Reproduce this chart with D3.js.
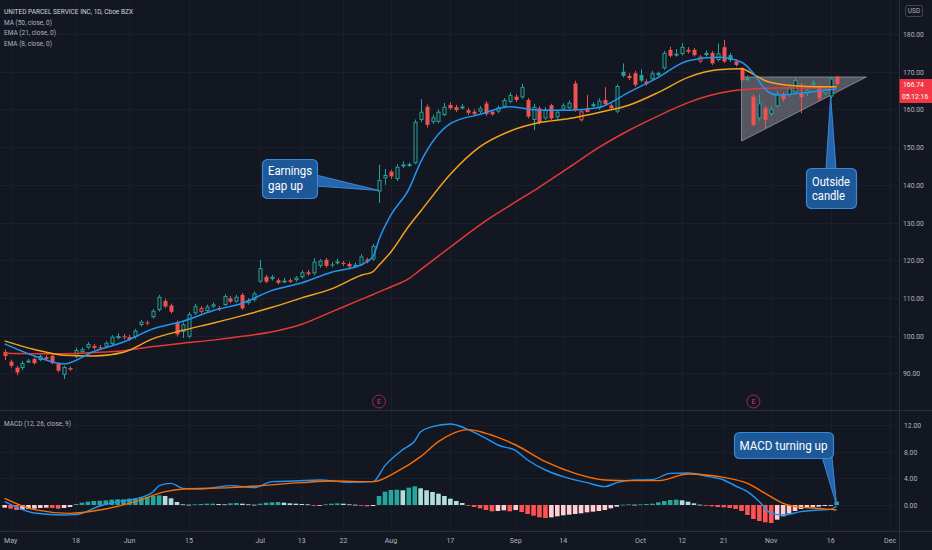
<!DOCTYPE html>
<html>
<head>
<meta charset="utf-8">
<script src="https://cdnjs.cloudflare.com/ajax/libs/d3/7.8.5/d3.min.js"></script>
<style>
  html, body { margin: 0; padding: 0; background: #131722; overflow: hidden; }
  svg { display: block; }
</style>
</head>
<body>
<div id="chart"></div>
<script>
// UPS daily candles with MA/EMA overlays and MACD pane (TradingView style)

// ---- data ----
const firstDay = '2020-04-30';
const lastAxisDay = '2020-12-02';
const holidays = ['2020-05-25', '2020-07-03', '2020-09-07', '2020-11-26'];

const open = [
  95.7, 93.1, 91.5, 91.4, 93.1, 93.8, 93.5, 94.3, 94.6, 92.5,
  89.6, 91.4, 94.4, 95.6, 96.8, 96.7, 96.9, 97.1, 97.8, 99.3,
  99.8, 99.6, 99.6, 102.8, 103.5, 104.9, 106.8, 109.2, 108.0, 103.4,
  101.0, 99.7, 105.9, 106.3, 106.5, 107.7, 107.3, 108.1, 109.9, 109.0,
  110.8, 108.6, 109.4, 114.3, 115.6, 115.0, 114.7, 114.5, 114.7, 114.7,
  115.5, 116.8, 116.5, 118.5, 120.1, 118.9, 119.3, 119.3, 119.0, 118.5,
  118.7, 120.2, 120.2, 138.2, 141.7, 143.5, 141.5, 145.1, 145.0, 145.7,
  157.2, 160.7, 156.6, 156.7, 158.5, 161.2, 160.6, 160.5, 159.8, 159.4,
  159.4, 161.6, 159.4, 159.4, 160.7, 162.0, 163.4, 163.2, 162.5, 157.2,
  160.3, 157.6, 161.1, 157.9, 160.0, 160.3, 166.9, 157.1, 160.3, 161.1,
  160.3, 162.5, 161.1, 159.4, 170.0, 168.9, 169.6, 169.1, 167.4, 168.0,
  169.1, 170.9, 175.8, 174.5, 174.7, 175.8, 175.8, 172.7, 175.0, 175.0,
  173.1, 176.5, 174.4, 172.7, 170.9, 167.9, 163.4, 157.6, 160.3, 158.8,
  160.8, 163.8, 163.8, 164.7, 164.3, 164.3, 166.5, 165.6, 164.3, 163.4,
  168.7
];
const high = [
  96.3, 93.6, 92.0, 93.3, 93.8, 94.2, 95.0, 94.8, 95.0, 92.8,
  92.0, 91.8, 96.8, 96.9, 98.3, 97.8, 97.5, 98.5, 100.1, 100.6,
  100.4, 100.2, 101.8, 104.2, 104.0, 107.1, 110.8, 109.8, 108.5, 104.0,
  103.5, 106.2, 108.4, 107.8, 108.2, 108.8, 107.9, 111.0, 110.5, 110.8,
  111.3, 109.9, 111.7, 120.0, 116.1, 116.1, 115.2, 115.3, 115.2, 115.8,
  117.3, 117.4, 120.5, 120.3, 120.6, 119.5, 120.4, 119.8, 119.5, 119.4,
  121.6, 120.6, 124.3, 145.3, 144.2, 144.0, 145.5, 146.2, 145.9, 157.3,
  162.7, 161.3, 158.6, 160.0, 161.7, 161.9, 161.2, 161.4, 160.4, 160.0,
  160.9, 162.2, 159.8, 161.0, 163.0, 164.5, 164.0, 166.8, 163.0, 161.5,
  160.8, 160.6, 161.5, 159.9, 161.6, 162.4, 167.6, 160.0, 163.8, 161.9,
  162.9, 165.9, 161.6, 166.6, 172.2, 169.6, 170.2, 170.6, 168.0, 170.2,
  170.0, 175.5, 176.6, 176.0, 177.6, 176.5, 176.3, 174.4, 175.6, 175.5,
  177.5, 178.4, 175.0, 173.3, 171.2, 169.0, 164.0, 164.0, 161.0, 160.8,
  165.0, 164.6, 166.5, 168.5, 167.0, 166.0, 167.8, 166.4, 165.8, 168.6,
  168.9
];
const low = [
  93.5, 91.5, 89.5, 90.8, 92.7, 92.3, 93.2, 93.4, 92.4, 90.3,
  88.5, 90.6, 94.0, 95.2, 96.4, 96.3, 96.2, 96.8, 97.5, 99.0,
  99.0, 98.6, 99.2, 102.4, 102.7, 104.5, 106.4, 107.3, 105.9, 99.8,
  99.4, 99.3, 105.5, 105.9, 106.1, 107.3, 106.5, 107.8, 108.6, 108.7,
  106.8, 108.2, 109.0, 114.0, 113.9, 114.6, 113.6, 114.0, 113.9, 114.3,
  115.1, 115.9, 116.0, 118.0, 118.0, 118.1, 118.9, 118.5, 117.9, 118.0,
  118.4, 119.2, 119.8, 135.2, 140.0, 141.6, 141.0, 144.5, 144.8, 145.4,
  156.6, 155.2, 156.1, 156.3, 158.2, 159.9, 159.3, 160.0, 158.5, 158.2,
  159.0, 158.3, 158.3, 159.0, 160.3, 161.6, 162.0, 162.8, 157.6, 154.5,
  156.0, 157.2, 157.2, 157.4, 159.6, 159.9, 159.4, 156.8, 159.2, 160.6,
  159.9, 161.0, 159.8, 159.0, 168.5, 167.8, 166.0, 167.2, 166.3, 167.6,
  168.7, 170.5, 173.8, 174.0, 174.3, 174.8, 174.0, 172.3, 174.0, 171.8,
  172.7, 172.3, 172.6, 171.4, 167.5, 167.4, 155.5, 157.0, 155.1, 158.3,
  160.5, 162.0, 163.4, 164.0, 159.0, 163.6, 166.0, 162.2, 163.8, 162.9,
  166.3
];
const close = [
  94.6, 92.0, 90.2, 92.7, 93.4, 92.7, 94.6, 93.8, 92.7, 90.7,
  91.7, 91.0, 96.2, 96.4, 97.8, 97.3, 96.7, 98.1, 99.7, 99.9,
  99.5, 99.0, 101.3, 103.7, 103.2, 106.6, 110.3, 107.7, 106.3, 100.3,
  103.0, 105.7, 107.8, 107.3, 107.7, 108.3, 107.0, 110.5, 109.0, 110.3,
  107.2, 109.4, 111.2, 117.9, 114.3, 115.6, 114.0, 114.6, 114.3, 115.4,
  116.8, 116.3, 119.6, 119.9, 118.5, 118.6, 119.7, 119.0, 118.3, 118.8,
  121.0, 119.6, 123.8, 141.3, 142.6, 142.2, 144.8, 145.4, 145.5, 156.7,
  159.4, 155.9, 157.9, 159.4, 160.7, 160.3, 159.8, 160.8, 159.1, 158.8,
  160.3, 158.8, 158.7, 160.5, 162.5, 163.8, 162.5, 165.9, 158.1, 160.7,
  156.5, 160.0, 157.6, 159.4, 161.1, 161.8, 159.8, 159.5, 159.3, 161.4,
  162.3, 161.4, 160.3, 166.2, 168.9, 168.3, 166.5, 167.6, 166.8, 169.6,
  169.7, 175.0, 174.2, 174.8, 176.6, 175.3, 174.4, 174.0, 174.4, 172.2,
  174.9, 172.7, 173.1, 171.8, 167.8, 168.3, 155.9, 161.6, 157.2, 160.0,
  164.2, 162.7, 165.6, 167.8, 163.2, 165.1, 167.1, 162.9, 165.1, 168.2,
  166.74
];

// moving averages at these sessions
const maDays = [
  '2020-04-30', '2020-05-07', '2020-05-14', '2020-05-21', '2020-05-29', '2020-06-05',
  '2020-06-12', '2020-06-19', '2020-06-26', '2020-07-06', '2020-07-13', '2020-07-20',
  '2020-07-27', '2020-07-29', '2020-07-30', '2020-08-03', '2020-08-06', '2020-08-10',
  '2020-08-17', '2020-08-24', '2020-08-31', '2020-09-08', '2020-09-15', '2020-09-22',
  '2020-09-29', '2020-10-06', '2020-10-13', '2020-10-20', '2020-10-26', '2020-10-28',
  '2020-10-30', '2020-11-03', '2020-11-10', '2020-11-17'
];
const ema8 = [
  97.8, 94.6, 92.5, 95.8, 98.3, 101.8, 103.8, 106.6, 108.6, 112.0, 114.0, 116.8,
  118.8, 121.0, 125.5, 132.0, 138.8, 146.0, 156.2, 158.7, 160.7, 159.8, 159.8, 160.5,
  164.5, 168.5, 172.9, 173.8, 172.5, 169.6, 165.3, 163.8, 164.5, 165.4
];
const ema21 = [
  98.6, 96.3, 94.8, 94.6, 95.6, 99.2, 101.4, 103.3, 105.3, 107.5, 110.0, 112.4,
  116.0, 117.0, 118.7, 122.2, 129.0, 133.0, 142.8, 150.1, 154.2, 156.5, 157.6, 159.2,
  161.1, 164.5, 168.5, 170.5, 170.8, 169.3, 167.6, 166.8, 166.1, 166.0
];
const ma50 = [
  95.3, 95.2, 95.2, 95.5, 96.0, 97.1, 98.0, 98.8, 99.8, 101.0, 103.0, 106.3,
  109.6, 110.9, 111.6, 112.9, 115.1, 117.5, 123.5, 129.4, 134.5, 139.4, 144.6, 149.9,
  154.4, 158.3, 161.8, 164.2, 165.2, 165.5, 165.6, 165.7, 165.7, 165.8
];

// MACD (12, 26, 9)
const macdDays = [
  '2020-04-30', '2020-05-07', '2020-05-14', '2020-05-18', '2020-05-22', '2020-05-28',
  '2020-06-02', '2020-06-05', '2020-06-08', '2020-06-10', '2020-06-12', '2020-06-17',
  '2020-06-24', '2020-06-30', '2020-07-06', '2020-07-10', '2020-07-16', '2020-07-23',
  '2020-07-29', '2020-07-31', '2020-08-05', '2020-08-07', '2020-08-10', '2020-08-12',
  '2020-08-17', '2020-08-18', '2020-08-20', '2020-08-25', '2020-08-27', '2020-09-01',
  '2020-09-03', '2020-09-09', '2020-09-14', '2020-09-18', '2020-09-23', '2020-09-25',
  '2020-09-30', '2020-10-05', '2020-10-08', '2020-10-13', '2020-10-16', '2020-10-21',
  '2020-10-23', '2020-10-27', '2020-10-29', '2020-11-02', '2020-11-04', '2020-11-09',
  '2020-11-12', '2020-11-16', '2020-11-17'
];
const macdLine = [
  0.5, -1.2, -1.5, -1.45, -0.15, 0.5, 0.9, 2.0, 2.9, 3.25, 2.5, 2.4,
  2.9, 2.6, 3.5, 3.6, 3.75, 3.4, 3.5, 5.9, 8.3, 9.6, 11.0, 11.75,
  12.15, 12.0, 11.3, 10.0, 9.0, 8.15, 6.75, 5.25, 4.25, 3.35, 2.75, 3.35,
  3.75, 3.8, 4.75, 4.8, 4.35, 3.75, 2.85, 2.0, 0.5, -1.25, -1.5, -1.0,
  -0.75, -0.65, -0.15
];
const signalDays = [
  '2020-04-30', '2020-05-07', '2020-05-15', '2020-05-22', '2020-06-02', '2020-06-09',
  '2020-06-12', '2020-06-24', '2020-07-13', '2020-07-20', '2020-07-29', '2020-08-04',
  '2020-08-10', '2020-08-13', '2020-08-20', '2020-08-25', '2020-09-01', '2020-09-09',
  '2020-09-16', '2020-09-23', '2020-09-29', '2020-10-06', '2020-10-13', '2020-10-16',
  '2020-10-21', '2020-10-27', '2020-10-30', '2020-11-04', '2020-11-09', '2020-11-12',
  '2020-11-17'
];
const signalLine = [
  1.0, -0.7, -1.25, -0.75, 0.5, 2.0, 2.4, 2.6, 3.35, 3.6, 3.5, 5.0,
  7.25, 9.5, 11.3, 10.75, 9.0, 6.5, 4.75, 3.75, 3.65, 3.65, 4.65, 4.5,
  4.15, 3.25, 1.75, 0.25, -0.35, -0.5, -0.75
];
const histogram = [
  -0.4, -0.55, -0.75, -0.7, -0.6, -0.55, -0.45, -0.4, -0.45, -0.55,
  -0.45, -0.3, 0.15, 0.35, 0.5, 0.6, 0.65, 0.7, 0.8, 0.85,
  0.85, 0.95, 1.0, 1.1, 1.2, 1.35, 1.45, 1.35, 1.0, 0.45,
  0.1, 0.05, 0.1, 0.15, 0.2, 0.2, 0.15, 0.1, 0.25, 0.3,
  0.2, 0.1, 0.05, 0.2, 0.35, 0.4, 0.45, 0.35, 0.25, 0.2,
  0.15, 0.1, -0.1, -0.05, 0.1, 0.2, 0.25, 0.2, 0.1, 0.05,
  -0.1, -0.2, -0.15, 1.35, 2.0, 2.25, 2.3, 2.2, 2.6, 2.8,
  2.5, 2.2, 1.95, 1.7, 1.35, 0.95, 0.6, 0.3, -0.1, -0.3,
  -0.5, -0.75, -0.95, -0.9, -0.8, -0.95, -0.75, -1.05, -1.35, -1.6,
  -1.85, -1.95, -1.85, -1.7, -1.55, -1.45, -1.35, -1.25, -1.1, -1.0,
  -0.9, -0.75, -0.5, -0.25, 0.05, 0.1, 0.05, 0.1, 0.15, 0.2,
  0.4, 0.6, 0.75, 0.8, 0.7, 0.5, 0.25, 0.05, -0.1, -0.2,
  -0.3, -0.35, -0.45, -0.6, -0.9, -1.5, -2.1, -2.4, -2.6, -2.7,
  -2.2, -1.7, -1.3, -0.9, -0.6, -0.45, -0.35, -0.25, -0.15, -0.05,
  0.5
];

const priceTicks = [90, 100, 110, 120, 130, 140, 150, 160, 170, 180];
const macdTicks = [0, 4, 8, 12];
const timeTickDays = [
  '2020-05-01', '2020-05-18', '2020-06-01', '2020-06-15', '2020-07-01', '2020-07-13',
  '2020-07-22', '2020-08-03', '2020-08-17', '2020-09-01', '2020-09-14', '2020-10-01',
  '2020-10-12', '2020-10-21', '2020-11-02', '2020-11-16', '2020-12-01'
];
const timeTickLabels = [
  'May', '18', 'Jun', '15', 'Jul', '13', '22', 'Aug', '17', 'Sep', '14', 'Oct',
  '12', '21', 'Nov', '16', 'Dec'
];

const earningsDays = ['2020-07-30', '2020-10-28'];

// ascending triangle drawing
const triangleDays = ['2020-10-26', '2020-11-24', '2020-10-26'];
const trianglePrices = [168.6, 168.6, 151.6];

// callout notes and the point they mark
const calloutText = [['Earnings', 'gap up'], ['Outside', 'candle'], ['MACD turning up']];
const calloutDays = ['2020-07-30', '2020-11-16', '2020-11-17'];
const calloutValues = [138.5, 163.6, 0.0];
const calloutPanes = ['price', 'price', 'macd'];

const legendLines = ['MA (50, close, 0)', 'EMA (21, close, 0)', 'EMA (8, close, 0)'];

// ---- layout ----
const W = 932, H = 550;
const plotRight = 899, paneSplit = 410, axisTop = 531;
const BG = '#131722';
const UP = '#26a69a', DOWN = '#ef5350';
const FONT = 'Roboto, "Liberation Sans", Arial, sans-serif';

const calloutLayout = [
  { x: 262, y: 159, w: 55, h: 39, base: [[316, 175], [316, 186]], tx: 268, ty: [175, 189.5], tw: [44, 35] },
  { x: 806, y: 168, w: 50, h: 40, base: [[826, 169], [836, 169]], tx: 812, ty: [185.5, 200], tw: [38, 33] },
  { x: 734, y: 432, w: 99, h: 26, base: [[822, 457], [832, 457]], tx: 739.5, ty: [449.5], tw: [88] }
];

// ---- scales ----
const parse = d3.utcParse('%Y-%m-%d');
const fmt = d3.utcFormat('%Y-%m-%d');
const days = d3.utcDay.range(parse(firstDay), d3.utcDay.offset(parse(lastAxisDay), 1))
  .filter(d => d.getUTCDay() % 6 !== 0)
  .map(fmt)
  .filter(d => !holidays.includes(d));

const x = d3.scaleBand().domain(days).range([1.7, plotRight]);
const xc = d => x(d) + x.bandwidth() / 2;
const yPrice = d3.scaleLinear().domain([90, 180]).range([373.3, 34]);
const yMacd = d3.scaleLinear().domain([0, 12]).range([505, 425]);

const svg = d3.select('#chart').append('svg')
  .attr('width', W).attr('height', H)
  .style('background', BG);

const defs = svg.append('defs');
defs.append('clipPath').attr('id', 'clip-price')
  .append('rect').attr('x', 0).attr('y', 0).attr('width', plotRight).attr('height', paneSplit);
defs.append('clipPath').attr('id', 'clip-macd')
  .append('rect').attr('x', 0).attr('y', paneSplit).attr('width', plotRight).attr('height', axisTop - paneSplit);

// squeeze text a bit so it matches the narrow UI font
function squeeze(sel, k) {
  sel.each(function () {
    const len = this.getComputedTextLength();
    if (len > 0) {
      this.setAttribute('textLength', len * k);
      this.setAttribute('lengthAdjust', 'spacingAndGlyphs');
    }
  });
}

// ---- grid ----
const grid = svg.append('g').attr('stroke', '#1b1f2b').attr('stroke-width', 1);
grid.selectAll('.hg').data(priceTicks).join('line')
  .attr('x1', 0).attr('x2', plotRight)
  .attr('y1', d => Math.round(yPrice(d)) + 0.5).attr('y2', d => Math.round(yPrice(d)) + 0.5);
grid.selectAll('.mg').data(macdTicks).join('line')
  .attr('x1', 0).attr('x2', plotRight)
  .attr('y1', d => Math.round(yMacd(d)) + 0.5).attr('y2', d => Math.round(yMacd(d)) + 0.5);
grid.selectAll('.vg').data(timeTickDays).join('line')
  .attr('x1', d => Math.round(xc(d)) + 0.5).attr('x2', d => Math.round(xc(d)) + 0.5)
  .attr('y1', 0).attr('y2', axisTop);

// ---- price pane ----
const pricePane = svg.append('g').attr('clip-path', 'url(#clip-price)');

// triangle pattern
pricePane.append('polygon')
  .attr('points', triangleDays.map((d, i) => [xc(d), yPrice(trianglePrices[i])].join(',')).join(' '))
  .attr('fill', '#9598a1').attr('fill-opacity', 0.5)
  .attr('stroke', '#b2b5be').attr('stroke-opacity', 0.6).attr('stroke-width', 1);

// candles (hollow style: hollow when close > open, colour vs previous close)
const bars = close.map((c, i) => ({
  day: days[i], o: open[i], h: high[i], l: low[i], c, pc: i ? close[i - 1] : open[i]
}));
const bodyW = 4;
pricePane.append('g').selectAll('g').data(bars).join('g').each(function (d) {
  const g = d3.select(this);
  const col = d.c >= d.pc ? UP : DOWN;
  const hollow = d.c > d.o;
  const top = yPrice(Math.max(d.o, d.c));
  const bot = yPrice(Math.min(d.o, d.c));
  const cx = Math.round(xc(d.day)) + 0.5;
  g.append('line').attr('x1', cx).attr('x2', cx)
    .attr('y1', yPrice(d.h)).attr('y2', top).attr('stroke', col);
  g.append('line').attr('x1', cx).attr('x2', cx)
    .attr('y1', bot).attr('y2', yPrice(d.l)).attr('stroke', col);
  if (hollow) {
    g.append('rect')
      .attr('x', cx - bodyW / 2 + 0.5).attr('y', top + 0.5)
      .attr('width', bodyW - 1).attr('height', Math.max(1, bot - top - 1))
      .attr('fill', BG).attr('stroke', col).attr('stroke-width', 1);
  } else {
    g.append('rect')
      .attr('x', cx - bodyW / 2).attr('y', top)
      .attr('width', bodyW).attr('height', Math.max(1, bot - top))
      .attr('fill', col);
  }
});

// moving average lines
const maLine = d3.line().x(d => xc(d[0])).y(d => yPrice(d[1])).curve(d3.curveMonotoneX);
const maSeries = [
  { vals: ma50, color: '#e53935' },
  { vals: ema21, color: '#f7a21b' },
  { vals: ema8, color: '#2196f3' }
];
maSeries.forEach(s => {
  pricePane.append('path')
    .datum(maDays.map((d, i) => [d, s.vals[i]]))
    .attr('d', maLine)
    .attr('fill', 'none').attr('stroke', s.color).attr('stroke-width', 1.5);
});

// earnings markers
const eg = svg.append('g').selectAll('g').data(earningsDays).join('g')
  .attr('transform', d => `translate(${xc(d)},401.5)`);
eg.append('circle').attr('r', 6.5).attr('fill', BG)
  .attr('stroke', '#9c2759').attr('stroke-width', 1);
eg.append('text').text('E').attr('text-anchor', 'middle').attr('dy', '0.36em')
  .attr('fill', '#d2386f').attr('font-size', 7).attr('font-family', FONT);

// ---- MACD pane ----
const macdPane = svg.append('g').attr('clip-path', 'url(#clip-macd)');
const histW = 4.6;
macdPane.append('g').selectAll('rect').data(histogram).join('rect')
  .attr('x', (v, i) => xc(days[i]) - histW / 2)
  .attr('width', histW)
  .attr('y', v => Math.min(yMacd(v), yMacd(0)))
  .attr('height', v => Math.max(0.8, Math.abs(yMacd(v) - yMacd(0))))
  .attr('fill', (v, i) => {
    const pv = i ? histogram[i - 1] : v;
    if (v >= 0) return v >= pv ? UP : '#b2dfdb';
    return v < pv ? '#ff5252' : '#ffcdd2';
  });

const macdPath = d3.line().x(d => xc(d[0])).y(d => yMacd(d[1])).curve(d3.curveMonotoneX);
macdPane.append('path')
  .datum(macdDays.map((d, i) => [d, macdLine[i]]))
  .attr('d', macdPath).attr('fill', 'none').attr('stroke', '#2196f3').attr('stroke-width', 1.4);
macdPane.append('path')
  .datum(signalDays.map((d, i) => [d, signalLine[i]]))
  .attr('d', macdPath).attr('fill', 'none').attr('stroke', '#ff6d00').attr('stroke-width', 1.4);

// ---- separators ----
const sep = svg.append('g').attr('stroke', '#2a2e39').attr('stroke-width', 1);
sep.append('line').attr('x1', 0).attr('x2', W).attr('y1', paneSplit + 0.5).attr('y2', paneSplit + 0.5);
sep.append('line').attr('x1', 0).attr('x2', W).attr('y1', axisTop + 0.5).attr('y2', axisTop + 0.5);
sep.append('line').attr('x1', plotRight + 0.5).attr('x2', plotRight + 0.5).attr('y1', 0).attr('y2', H);

// ---- axes ----
function styleAxis(g) {
  g.select('.domain').remove();
  g.selectAll('text').attr('fill', '#b2b5be').attr('font-size', 8).attr('font-family', FONT);
}
const priceAxis = svg.append('g')
  .attr('transform', `translate(${plotRight},0)`)
  .call(d3.axisRight(yPrice).tickValues(priceTicks).tickFormat(d3.format('.2f')).tickSize(0).tickPadding(4))
  .call(styleAxis);
const macdAxis = svg.append('g')
  .attr('transform', `translate(${plotRight},0)`)
  .call(d3.axisRight(yMacd).tickValues(macdTicks).tickFormat(d3.format('.2f')).tickSize(0).tickPadding(5))
  .call(styleAxis);
const timeAxis = svg.append('g')
  .attr('transform', `translate(0,${axisTop})`)
  .call(d3.axisBottom(x).tickValues(timeTickDays)
    .tickFormat(d => timeTickLabels[timeTickDays.indexOf(d)]).tickSize(0).tickPadding(6))
  .call(styleAxis);
squeeze(priceAxis.selectAll('text'), 0.85);
squeeze(macdAxis.selectAll('text'), 0.85);
squeeze(timeAxis.selectAll('text'), 0.88);

// USD badge
svg.append('rect').attr('x', 905.5).attr('y', 5.5).attr('width', 17).attr('height', 11).attr('rx', 2)
  .attr('fill', 'none').attr('stroke', '#434651');
svg.append('text').text('USD').attr('x', 914).attr('y', 11).attr('dy', '0.35em')
  .attr('text-anchor', 'middle').attr('fill', '#b2b5be').attr('font-size', 6.5).attr('font-family', FONT);

// last price badge
const lastY = yPrice(close[close.length - 1]);
svg.append('rect').attr('x', plotRight + 0.5).attr('y', lastY - 5).attr('width', W - plotRight).attr('height', 24)
  .attr('fill', '#f23645');
const lastLabels = svg.append('g').attr('fill', '#ffffff').attr('font-size', 8).attr('font-family', FONT);
lastLabels.append('text').text(d3.format('.2f')(close[close.length - 1]))
  .attr('x', 903).attr('y', lastY).attr('dy', '0.35em');
lastLabels.append('text').text('05:12:16')
  .attr('x', 902).attr('y', lastY + 12.5).attr('dy', '0.35em');
squeeze(lastLabels.selectAll('text'), 0.85);

// ---- legends ----
const legend = svg.append('g').attr('font-family', FONT).attr('font-size', 8);
legend.append('text').text('UNITED PARCEL SERVICE INC, 1D, Cboe BZX')
  .attr('x', 4).attr('y', 14).attr('fill', '#d1d4dc')
  .attr('textLength', 129).attr('lengthAdjust', 'spacingAndGlyphs');
const legendWidths = [48, 52, 48];
legendLines.forEach((t, i) => {
  legend.append('text').text(t)
    .attr('x', 4).attr('y', 24.5 + i * 10.8).attr('fill', '#b2b5be')
    .attr('textLength', legendWidths[i]).attr('lengthAdjust', 'spacingAndGlyphs');
});
legend.append('text').text('MACD (12, 26, close, 9)')
  .attr('x', 4).attr('y', 426).attr('fill', '#b2b5be')
  .attr('textLength', 67).attr('lengthAdjust', 'spacingAndGlyphs');

// ---- callouts ----
const notes = svg.append('g');
calloutText.forEach((lines, i) => {
  const L = calloutLayout[i];
  const yScale = calloutPanes[i] === 'price' ? yPrice : yMacd;
  const tip = [xc(calloutDays[i]), yScale(calloutValues[i])];
  notes.append('polygon')
    .attr('points', [L.base[0], tip, L.base[1]].map(p => p.join(',')).join(' '))
    .attr('fill', '#2466ad').attr('stroke', '#3b86d6').attr('stroke-width', 1);
  notes.append('rect')
    .attr('x', L.x + 0.5).attr('y', L.y + 0.5).attr('width', L.w).attr('height', L.h).attr('rx', 5)
    .attr('fill', '#1d5899').attr('stroke', '#3b86d6').attr('stroke-width', 1.2);
  lines.forEach((t, j) => {
    notes.append('text').text(t)
      .attr('x', L.tx).attr('y', L.ty[j])
      .attr('fill', '#ffffff').attr('font-size', 12).attr('font-family', FONT)
      .attr('textLength', L.tw[j]).attr('lengthAdjust', 'spacingAndGlyphs');
  });
});
</script>
</body>
</html>
